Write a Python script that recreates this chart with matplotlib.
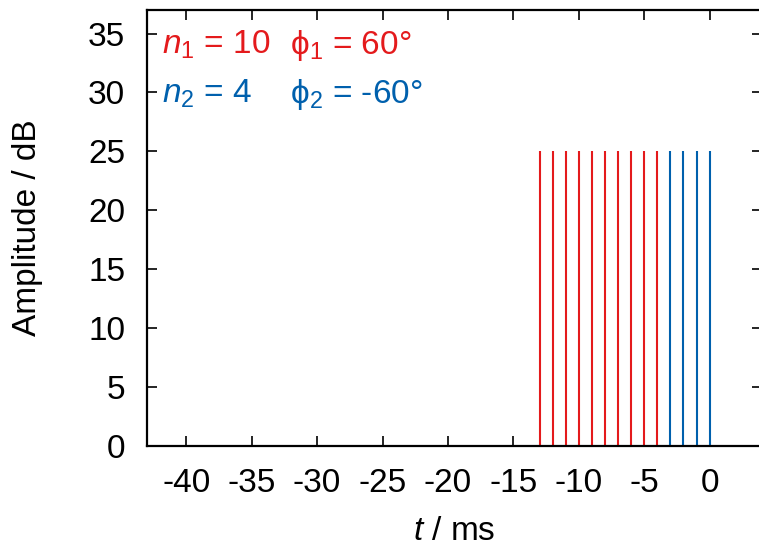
import matplotlib
matplotlib.use("Agg")
import matplotlib.pyplot as plt
import numpy as np

plt.rcParams['font.family'] = ['Liberation Sans', 'DejaVu Sans']
plt.rcParams['mathtext.fontset'] = 'custom'
plt.rcParams['mathtext.rm'] = 'Liberation Sans'
plt.rcParams['mathtext.it'] = 'Liberation Sans:italic'
plt.rcParams['mathtext.bf'] = 'Liberation Sans:bold'

# data
t1 = [-13, -12, -11, -10, -9, -8, -7, -6, -5, -4]
t2 = [-3, -2, -1, 0]
amp1 = [25] * len(t1)
amp2 = [25] * len(t2)
xticks = [-40, -35, -30, -25, -20, -15, -10, -5, 0]
yticks = [0, 5, 10, 15, 20, 25, 30, 35]

red = '#e41a1c'
blue = '#0060ad'

fs = 24

fig = plt.figure(figsize=(7.59, 5.46), dpi=100)
ax = fig.add_axes([147/759, 100/546, 615/759, 436/546])

ax.vlines(t1, 0, amp1, colors=red, linewidth=1.5)
ax.vlines(t2, 0, amp2, colors=blue, linewidth=1.5)

ax.set_xlim(-43, 4)
ax.set_ylim(0, 37)
ax.set_xticks(xticks)
ax.set_yticks(yticks)
ax.set_xticklabels([str(v) for v in xticks])
ax.tick_params(direction='in', length=7, width=1.2, top=True, right=True,
               labelsize=fs, pad=15.7)
for s in ax.spines.values():
    s.set_linewidth(1.6)

ax.set_xlabel(r'$t$ / ms', fontsize=fs, labelpad=12.5)
ax.set_ylabel('Amplitude / dB', fontsize=fs, labelpad=32)

ax.text(-41.85, 33.3, r'$n_1$ = 10', color=red, fontsize=fs, va='baseline')
ax.text(-32.07, 33.3, r'$\mathrm{\phi}_1$ = 60°', color=red, fontsize=fs, va='baseline')
ax.text(-41.85, 29.15, r'$n_2$ = 4', color=blue, fontsize=fs, va='baseline')
ax.text(-32.07, 29.15, r'$\mathrm{\phi}_2$ = -60°', color=blue, fontsize=fs, va='baseline')

fig.savefig('out.png', dpi=100)
